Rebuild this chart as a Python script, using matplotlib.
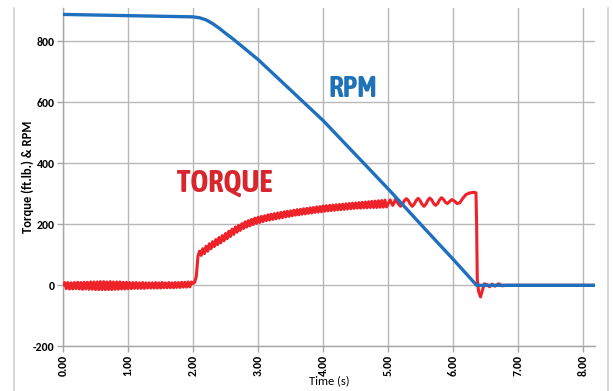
import numpy as np
import matplotlib
matplotlib.use("Agg")
from matplotlib import pyplot as plt
from matplotlib.lines import Line2D

plt.rcParams['font.family'] = ['Carlito', 'Liberation Sans', 'DejaVu Sans']
big_font = ['Asap Condensed', 'Barlow Condensed', 'DejaVu Sans']

# RPM curve (time in s, rpm)
rpm_t = [0.0, 0.5, 1.0, 1.5, 2.0, 2.1, 2.2, 2.3, 2.4, 2.5, 2.6, 2.8, 3.0,
         3.5, 4.0, 4.5, 5.0, 5.5, 6.0, 6.2, 6.36, 7.0, 8.17]
rpm = [888, 886, 884, 882, 880, 877, 870, 858, 843, 826, 810, 775, 740,
       640, 540, 428, 316, 200, 85, 38, 0, 0, 0]

# torque ripple before the load, one sample every 0.025 s from 0.0 s
torque_idle = [2, 9, -11, 9, -12, 8, -12, 9, -11, 10, -12, 9, -13, 10, -12,
               10, -13, 11, -13, 11, -14, 11, -14, 12, -14, 12, -14, 11, -14,
               12, -14, 11, -13, 11, -13, 11, -12, 10, -12, 10, -11, 9, -11,
               9, -10, 9, -10, 8, -10, 9, -10, 8, -9, 8, -9, 8, -9, 9, -9, 8,
               -9, 9, -8, 8, -8, 9, -8, 8, -8, 9, -7, 9, -7, 10, -6, 10, -6,
               11, -5, 11, 6]

# torque rise after the load, one sample every 0.025 s from 2.025 s
torque_load = [10, 30, 95, 112, 98, 120, 104, 128, 112, 136, 120, 143, 127,
               150, 133, 157, 139, 163, 146, 170, 153, 177, 160, 184, 167,
               191, 174, 197, 180, 202, 186, 208, 191, 212, 195, 216, 199,
               220, 203, 223, 206, 226, 209, 228, 212, 231, 214, 233, 216,
               235, 218, 237, 220, 239, 222, 241, 224, 243, 226, 244, 228,
               246, 230, 248, 231, 249, 233, 251, 234, 252, 236, 254, 237,
               255, 239, 257, 240, 258, 241, 260, 243, 261, 244, 262, 245,
               263, 246, 264, 247, 265, 248, 266, 249, 267, 250, 268, 251,
               269, 252, 270, 253, 271, 253, 272, 254, 273, 254, 274, 255,
               275, 255, 276, 255, 277, 256, 278, 256, 279, 257]

# torque near the stop
torque_end_t = [5.03, 5.05, 5.07, 5.09, 5.11, 5.13, 5.16, 5.19, 5.22, 5.25,
                5.28, 5.31, 5.34, 5.37, 5.40, 5.43, 5.46, 5.49, 5.52, 5.55,
                5.58, 5.61, 5.64, 5.67, 5.70, 5.73, 5.76, 5.79, 5.82, 5.85,
                5.88, 5.91, 5.94, 5.98, 6.02, 6.06, 6.10, 6.15, 6.20, 6.26,
                6.32, 6.35, 6.36, 6.37, 6.39, 6.42, 6.45, 6.48, 6.52, 6.56,
                6.60, 6.64, 6.70, 6.75, 6.80, 8.17]
torque_end = [280, 270, 262, 270, 282, 276, 266, 259, 266, 278, 284, 278,
              266, 259, 266, 278, 285, 278, 266, 259, 266, 279, 286, 280,
              268, 262, 268, 280, 287, 282, 272, 268, 274, 281, 276, 268,
              270, 286, 298, 303, 305, 303, 200, 20, -20, -38,
              -15, 5, 2, -5, 4, -3, 5, -2, 0, 0]

x_ticks = [0, 1, 2, 3, 4, 5, 6, 7, 8]
y_ticks = [-200, 0, 200, 400, 600, 800]

torque_t = ([0.025 * i for i in range(len(torque_idle))]
            + [2.025 + 0.025 * i for i in range(len(torque_load))]
            + torque_end_t)
torque = torque_idle + torque_load + torque_end

fig = plt.figure(figsize=(6.13, 3.91), dpi=100)
ax = fig.add_axes([0.1028, 0.1143, 0.8678, 0.8652])

red = '#EE2229'
blue = '#1F6FBF'
ax.plot(torque_t, torque, color=red, lw=2.2, zorder=3, solid_joinstyle='round')
ax.plot(rpm_t, rpm, color=blue, lw=2.4, zorder=4, solid_joinstyle='round')

ax.set_xlim(0, 8.18)
ax.set_ylim(-200, 909)
ax.set_xticks(x_ticks)
ax.set_xticklabels(['%.2f' % v for v in x_ticks], rotation=90,
                   fontweight='bold', fontsize=8.5)
ax.set_yticks(y_ticks)
ax.set_yticklabels([str(v) for v in y_ticks], fontweight='bold', fontsize=8.5)

ax.grid(True, color='#B8B8B8', lw=1.0)
ax.set_axisbelow(True)
for s in ['top', 'right']:
    ax.spines[s].set_visible(False)
for s in ['left', 'bottom']:
    ax.spines[s].set_color('#A6A6A6')
    ax.spines[s].set_linewidth(1.0)
ax.tick_params(colors='#A6A6A6', length=4, width=1.0, labelcolor='black', pad=2)

ax.set_xlabel('Time (s)', fontsize=9, labelpad=0)
ax.set_ylabel('Torque (ft.lb.) & RPM', fontsize=9, fontweight='bold', labelpad=-1)

ax.text(4.45, 644, 'RPM', color='#1F72B8', fontsize=21, fontweight='bold',
        family=big_font, ha='center', va='center')
ax.text(2.48, 335, 'TORQUE', color='#D7262E', fontsize=22, fontweight='bold',
        family=big_font, ha='center', va='center')

# chart area border (left and right only visible)
fig.add_artist(Line2D([14 / 613, 14 / 613], [0, 1 - 8 / 391],
                      transform=fig.transFigure, color='#D0D0D0', lw=1.2))
fig.add_artist(Line2D([608 / 613, 608 / 613], [0, 1 - 8 / 391],
                      transform=fig.transFigure, color='#D0D0D0', lw=1.2))

fig.savefig('out.png', dpi=100)
